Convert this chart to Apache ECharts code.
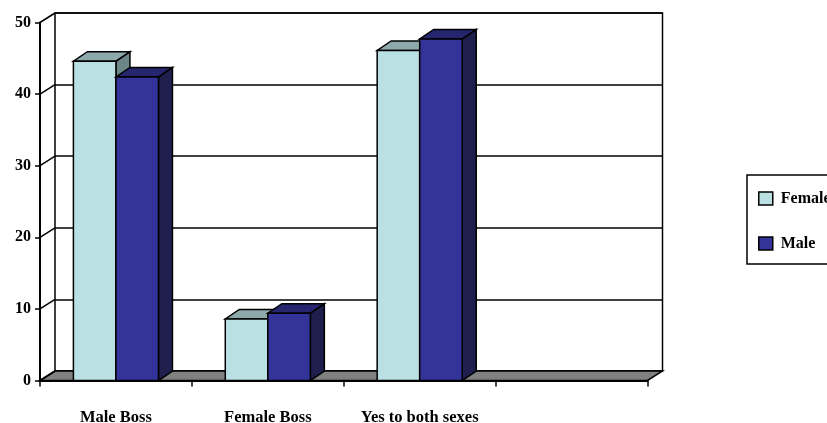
<!DOCTYPE html>
<html>
<head>
<meta charset="utf-8">
<script src="https://cdn.jsdelivr.net/npm/echarts@6/dist/echarts.min.js"></script>
<style>
  html, body { margin: 0; padding: 0; background: #fff; }
  #chart { width: 827px; height: 423px; }
</style>
</head>
<body>
<div id="chart"></div>
<script>
// Survey answers by respondent sex
const categories = ['Male Boss', 'Female Boss', 'Yes to both sexes', ''];
const femaleValues = [44.6, 8.6, 46.1];
const maleValues = [42.4, 9.4, 47.7];
const yTicks = [0, 10, 20, 30, 40, 50];

// Pseudo-3D depth of the box and the bars (pixels, right / up)
const DEPTH_X = 15;
const DEPTH_Y = -9.5;
const BAR_DX = 14;
const BAR_DY = -9.5;
const BAR_RATIO = 0.28;

const FONT = 'Liberation Serif, Times New Roman, serif';

const femaleColors = { front: '#BBE0E3', top: '#8EA9AB', side: '#6C8688' };
const maleColors = { front: '#333399', top: '#26266F', side: '#1F1F4E' };

const edge = { stroke: '#000', lineWidth: 1.5 };

function barRenderer(colors, leftSide) {
  return function (params, api) {
    const cat = api.value(0);
    const v = api.value(1);
    const top = api.coord([cat, v]);
    const base = api.coord([cat, 0]);
    const w = api.size([1, 0])[0] * BAR_RATIO;
    const x0 = leftSide ? top[0] - w : top[0];
    const x1 = x0 + w;
    const yT = top[1];
    const yB = base[1];
    return {
      type: 'group',
      children: [
        {
          type: 'polygon',
          shape: { points: [[x1, yT], [x1 + BAR_DX, yT + BAR_DY], [x1 + BAR_DX, yB + BAR_DY], [x1, yB]] },
          style: Object.assign({ fill: colors.side }, edge)
        },
        {
          type: 'polygon',
          shape: { points: [[x0, yT], [x1, yT], [x1 + BAR_DX, yT + BAR_DY], [x0 + BAR_DX, yT + BAR_DY]] },
          style: Object.assign({ fill: colors.top }, edge)
        },
        {
          type: 'rect',
          shape: { x: x0, y: yT, width: w, height: yB - yT },
          style: Object.assign({ fill: colors.front }, edge)
        }
      ]
    };
  };
}

const chart = echarts.init(document.getElementById('chart'), null, { renderer: 'canvas' });

chart.setOption({
  animation: false,
  backgroundColor: '#fff',
  grid: [
    // front plane
    { left: 40, right: 179.5, top: 22.5, bottom: 42.5, outerBoundsMode: 'none', containLabel: false },
    // back wall
    { left: 55, right: 164.5, top: 13, bottom: 52, outerBoundsMode: 'none', containLabel: false,
      show: true, borderColor: '#000', borderWidth: 1.5, backgroundColor: '#fff' }
  ],
  xAxis: [
    {
      gridIndex: 0,
      type: 'category',
      data: categories,
      boundaryGap: true,
      z: 3,
      axisLine: { lineStyle: { color: '#000', width: 2 } },
      axisTick: { show: true, length: 6, lineStyle: { color: '#000', width: 1.5 } },
      axisLabel: { color: '#000', fontFamily: FONT, fontWeight: 'bold', fontSize: 16.5, margin: 29, interval: 0 }
    },
    { gridIndex: 1, type: 'category', data: categories, show: false }
  ],
  yAxis: [
    {
      gridIndex: 0,
      type: 'value',
      min: 0, max: 50, interval: 10,
      z: 3,
      axisLine: { show: true, lineStyle: { color: '#000', width: 2 } },
      axisTick: { show: true, length: 5, lineStyle: { color: '#000', width: 1.5 } },
      axisLabel: { color: '#000', fontFamily: FONT, fontWeight: 'bold', fontSize: 16, margin: 9 },
      splitLine: { show: false }
    },
    {
      gridIndex: 1,
      type: 'value',
      min: 0, max: 50, interval: 10,
      axisLine: { show: false },
      axisTick: { show: false },
      axisLabel: { show: false },
      splitLine: { show: true, lineStyle: { color: '#000', width: 1.5 } }
    }
  ],
  legend: {
    orient: 'vertical',
    left: 747,
    top: 175,
    padding: [15.5, 40, 12.5, 11],
    itemWidth: 14,
    itemHeight: 13,
    itemGap: 29,
    borderColor: '#000',
    borderWidth: 1.5,
    selectedMode: false,
    textStyle: { color: '#000', fontFamily: FONT, fontWeight: 'bold', fontSize: 16, padding: [0, 0, 0, 3] },
    data: [
      { name: 'Female', icon: 'rect', itemStyle: { color: femaleColors.front, borderColor: '#000', borderWidth: 1.5 } },
      { name: 'Male', icon: 'rect', itemStyle: { color: maleColors.front, borderColor: '#000', borderWidth: 1.5 } }
    ]
  },
  series: [
    {
      // gray floor slab
      type: 'custom',
      xAxisIndex: 0, yAxisIndex: 0,
      z: 1,
      silent: true,
      data: [[0, 0]],
      renderItem: function (params) {
        const cs = params.coordSys;
        const yb = cs.y + cs.height;
        return {
          type: 'polygon',
          shape: { points: [[cs.x, yb], [cs.x + cs.width, yb], [cs.x + cs.width + DEPTH_X, yb + DEPTH_Y], [cs.x + DEPTH_X, yb + DEPTH_Y]] },
          style: Object.assign({ fill: '#808080' }, edge)
        };
      }
    },
    {
      // side wall lines joining front ticks to back gridlines
      type: 'custom',
      xAxisIndex: 0, yAxisIndex: 0,
      z: 1,
      silent: true,
      data: yTicks.map(function (t) { return [0, t]; }),
      renderItem: function (params, api) {
        const cs = params.coordSys;
        const y = api.coord([0, api.value(1)])[1];
        return {
          type: 'line',
          shape: { x1: cs.x, y1: y, x2: cs.x + DEPTH_X, y2: y + DEPTH_Y },
          style: { stroke: '#000', lineWidth: 1.5 }
        };
      }
    },
    {
      name: 'Female',
      type: 'custom',
      xAxisIndex: 0, yAxisIndex: 0,
      z: 2,
      itemStyle: { color: femaleColors.front },
      data: femaleValues.map(function (v, i) { return [i, v]; }),
      renderItem: barRenderer(femaleColors, true)
    },
    {
      name: 'Male',
      type: 'custom',
      xAxisIndex: 0, yAxisIndex: 0,
      z: 2,
      itemStyle: { color: maleColors.front },
      data: maleValues.map(function (v, i) { return [i, v]; }),
      renderItem: barRenderer(maleColors, false)
    }
  ]
});
</script>
</body>
</html>
